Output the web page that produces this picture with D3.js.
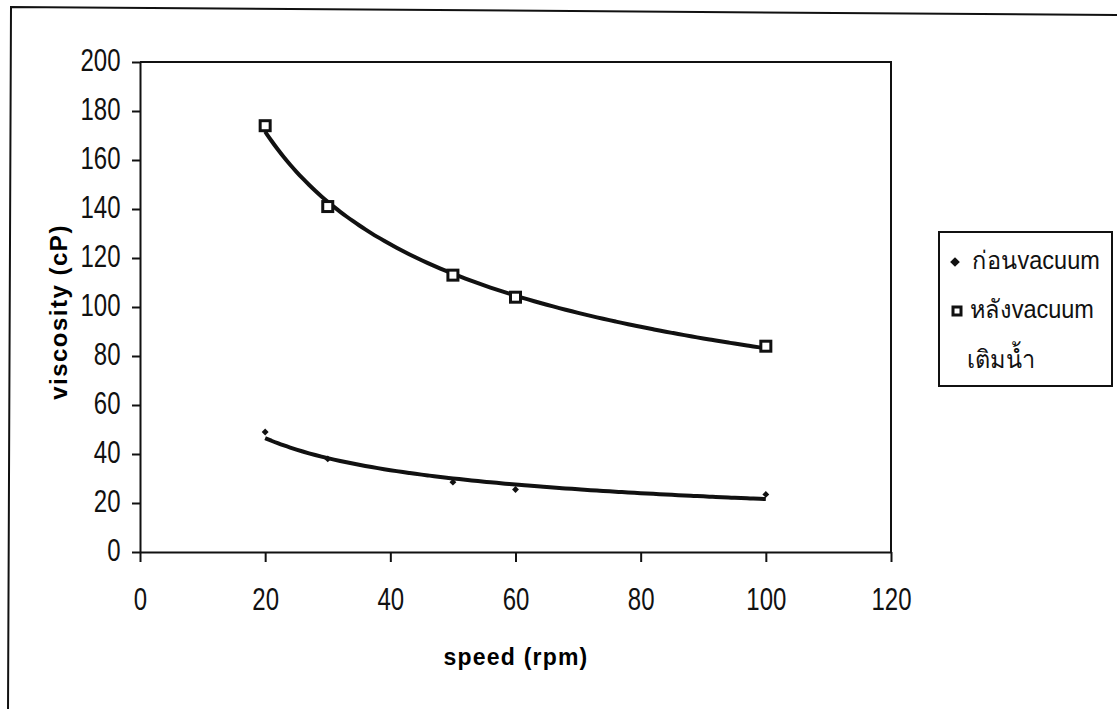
<!DOCTYPE html>
<html>
<head>
<meta charset="utf-8">
<script src="https://cdn.jsdelivr.net/npm/d3@7"></script>
<style>
  body { margin: 0; background: #fff; }
  svg { display: block; }
  .tick text { font-family: "Liberation Sans", Arial, sans-serif; font-size: 32px; fill: #111; }
  .axis path, .axis line { stroke: #111; stroke-width: 2; }
</style>
</head>
<body>
<div class="vis-chart"></div>
<script>
// data
const speeds = [20, 30, 50, 60, 100];
const beforeVacuum = [49, 38, 28.5, 25.5, 23.5];
const afterVacuum = [174, 141, 113, 104, 84];
const xTicks = [0, 20, 40, 60, 80, 100, 120];
const yTicks = [0, 20, 40, 60, 80, 100, 120, 140, 160, 180, 200];
const legendLabels = ["ก่อนvacuum", "หลังvacuum", "เติมน้ำ"];

const W = 1117, H = 709;
const margin = {top: 62, right: 226, bottom: 157, left: 140};
const width = W - margin.left - margin.right;
const height = H - margin.top - margin.bottom;
const squeeze = 0.75; // tick labels are a narrow face in the picture

const root = d3.select('.vis-chart').append('svg')
    .attr('width', W)
    .attr('height', H);

// outer chart frame (scan is slightly skewed)
root.append('path')
    .attr('d', 'M8,' + (H + 5) + 'L11,7L' + (W + 5) + ',15')
    .attr('fill', 'none')
    .attr('stroke', '#111')
    .attr('stroke-width', 2);

const svg = root.append('g')
    .attr('transform', 'translate(' + margin.left + ',' + margin.top + ')');

const x = d3.scaleLinear().domain([0, 120]).range([0, width]);
const y = d3.scaleLinear().domain([0, 200]).range([height, 0]);

// plot area border (top and right)
svg.append('path')
    .attr('d', 'M0,0H' + width + 'V' + height)
    .attr('fill', 'none')
    .attr('stroke', '#111')
    .attr('stroke-width', 2);

svg.append('g')
    .attr('class', 'axis')
    .attr('transform', 'translate(0,' + height + ')')
    .call(d3.axisBottom(x).tickValues(xTicks).tickSize(10).tickPadding(25).tickSizeOuter(0))
    .call(g => g.selectAll('.tick text').attr('transform', 'scale(' + squeeze + ',1)'));

svg.append('g')
    .attr('class', 'axis')
    .call(d3.axisLeft(y).tickValues(yTicks).tickSize(8).tickSizeOuter(0))
    .call(g => g.selectAll('.tick text')
        .attr('x', -19.5 / squeeze)
        .attr('dy', '0.26em')
        .attr('transform', 'scale(' + squeeze + ',1)'));

// power trendline (least squares on log-log), like Excel's trendline
function powerFit(xs, ys) {
    const lx = xs.map(Math.log), ly = ys.map(Math.log);
    const mx = d3.mean(lx), my = d3.mean(ly);
    const b = d3.sum(lx, (v, i) => (v - mx) * (ly[i] - my)) / d3.sum(lx, v => (v - mx) * (v - mx));
    const a = Math.exp(my - b * mx);
    return v => a * Math.pow(v, b);
}

const line = d3.line()
    .x(d => x(d[0]))
    .y(d => y(d[1]))
    .curve(d3.curveBasis);

// markers (drawn under the trendlines, as in the picture)
svg.selectAll('.diamond')
    .data(speeds)
    .enter().append('path')
    .attr('class', 'diamond')
    .attr('transform', (d, i) => 'translate(' + x(d) + ',' + y(beforeVacuum[i]) + ')')
    .attr('d', d3.symbol().type(d3.symbolDiamond2).size(30))
    .attr('fill', '#111');

[beforeVacuum, afterVacuum].forEach(series => {
    const f = powerFit(speeds, series);
    const pts = d3.range(speeds[0], speeds[speeds.length - 1] + 0.5, 1).map(v => [v, f(v)]);
    svg.append('path')
        .datum(pts)
        .attr('fill', 'none')
        .attr('stroke', '#111')
        .attr('stroke-width', 4)
        .attr('d', line);
});

svg.selectAll('.square')
    .data(speeds)
    .enter().append('rect')
    .attr('class', 'square')
    .attr('x', d => x(d) - 5)
    .attr('y', (d, i) => y(afterVacuum[i]) - 5)
    .attr('width', 10)
    .attr('height', 10)
    .attr('fill', '#fff')
    .attr('stroke', '#111')
    .attr('stroke-width', 3);

// axis titles
root.append('text')
    .attr('transform', 'translate(67,312) rotate(-90)')
    .attr('text-anchor', 'middle')
    .attr('font-family', 'Liberation Sans, Arial, sans-serif')
    .attr('font-weight', 'bold')
    .attr('font-size', 24)
    .attr('letter-spacing', 1.5)
    .text('viscosity (cP)');

root.append('text')
    .attr('x', 516)
    .attr('y', 665)
    .attr('text-anchor', 'middle')
    .attr('font-family', 'Liberation Sans, Arial, sans-serif')
    .attr('font-weight', 'bold')
    .attr('font-size', 23)
    .attr('letter-spacing', 1.2)
    .text('speed (rpm)');

// legend
const legend = root.append('g').attr('transform', 'translate(939,232)');
legend.append('rect')
    .attr('width', 173)
    .attr('height', 154)
    .attr('fill', '#fff')
    .attr('stroke', '#111')
    .attr('stroke-width', 2);

legend.append('path')
    .attr('transform', 'translate(16,30)')
    .attr('d', d3.symbol().type(d3.symbolDiamond2).size(60))
    .attr('fill', '#111');
legend.append('rect')
    .attr('x', 14).attr('y', 75)
    .attr('width', 8).attr('height', 8)
    .attr('fill', '#fff')
    .attr('stroke', '#111')
    .attr('stroke-width', 3);

legend.selectAll('.leg-text')
    .data(legendLabels)
    .enter().append('text')
    .attr('class', 'leg-text')
    .attr('transform', (d, i) => 'translate(' + [33, 31, 28][i] + ',' + [37, 86, 136][i] + ') scale(0.94,1)')
    .attr('font-family', 'Liberation Sans, Arial, sans-serif')
    .attr('font-size', 25)
    .attr('fill', '#111')
    .text(d => d);
</script>
</body>
</html>
